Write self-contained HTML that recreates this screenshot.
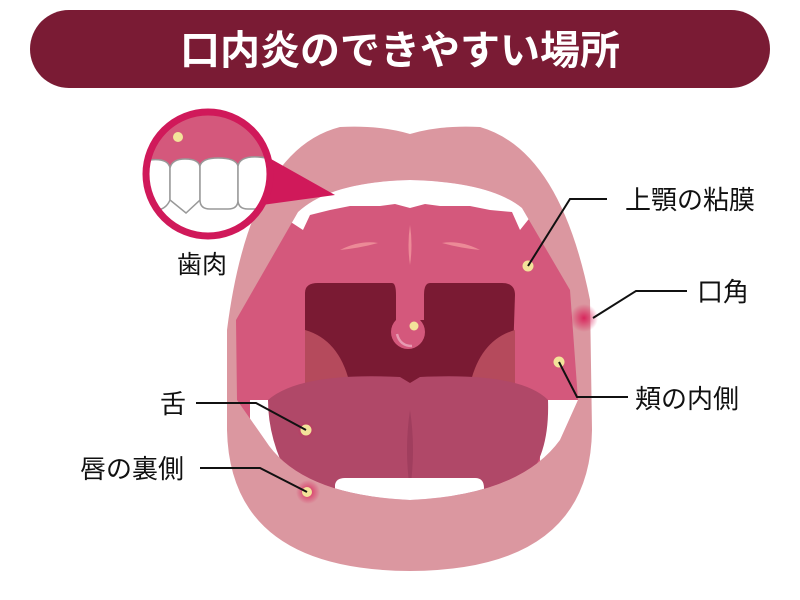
<!DOCTYPE html>
<html><head><meta charset="utf-8"><style>
html,body{margin:0;padding:0;background:#fff;}
svg{display:block;}
text{font-family:"Liberation Sans","Noto Sans CJK JP",sans-serif;}
</style></head><body>
<svg width="800" height="600" viewBox="0 0 800 600" xmlns="http://www.w3.org/2000/svg">
<defs>
<radialGradient id="g1"><stop offset="0" stop-color="#d81a55" stop-opacity="0.9"/><stop offset="1" stop-color="#d81a55" stop-opacity="0"/></radialGradient>
<clipPath id="cc"><circle cx="208" cy="174" r="62"/></clipPath>
<clipPath id="inner"><path d="M298,212 Q330,182 410,180 Q490,182 522,208 L570,290 L578,400 L560,440 Q520,495 410,500 Q300,495 265,440 L237,400 L236,320 Z"/></clipPath>
</defs>
<rect x="30" y="10" width="740" height="78" rx="39" fill="#7a1b34"/>
<text x="400" y="64" font-size="40" font-weight="bold" fill="#fff" text-anchor="middle">口内炎のできやすい場所</text>

<path d="M340,127 Q380,125 410,134 Q440,125 480,127 Q560,150 590,300 L592,430 Q590,570 410,571 Q230,570 227,430 L227,330 Q250,150 340,127 Z" fill="#db97a0"/>
<path d="M298,212 Q330,182 410,180 Q490,182 522,208 L570,290 L578,400 L560,440 Q520,495 410,500 Q300,495 265,440 L237,400 L236,320 Z" fill="#d4587c"/>
<g clip-path="url(#inner)">
<path d="M280,175 L540,175 L540,205 L520,230 L512,212 L490,210 L470,206 L440,206 L425,204 L410,208 L395,204 L380,206 L350,206 L330,210 L310,215 L303,230 L280,215 Z" fill="#fff"/>
<!-- throat -->
<path d="M305,293 Q305,283 318,283 L392,283 Q396,283 396,295 L396,385 L305,385 Z" fill="#7a1a33"/>
<path d="M424,295 Q424,283 430,283 L502,283 Q515,283 515,295 L512,385 L424,385 Z" fill="#7a1a33"/>
<rect x="390" y="320" width="40" height="66" fill="#7a1a33"/>
<path d="M305,330 Q340,340 350,385 L305,385 Z" fill="#b54a5c"/>
<path d="M515,330 Q480,340 470,385 L515,385 Z" fill="#b54a5c"/>
<rect x="396" y="283" width="28" height="35" fill="#d4587c"/>
<circle cx="408" cy="332" r="17" fill="#d4587c"/>
<path d="M397,334 Q400,346 412,346" stroke="#e79bb2" stroke-width="2.5" fill="none"/>
<path d="M410,225 Q413,245 410,265 Q407,245 410,225 Z" fill="#ec8a97"/>
<path d="M340,250 Q360,240 378,243 Q360,248 340,250 Z" fill="#ec8a97"/>
<path d="M442,243 Q460,240 480,250 Q460,248 442,243 Z" fill="#ec8a97"/>
<rect x="250" y="400" width="30" height="90" fill="#fff"/>
<rect x="540" y="400" width="40" height="70" fill="#fff"/>
<path d="M268,400 Q300,372 400,377 L410,383 L420,377 Q520,372 548,400 Q550,460 520,485 Q460,498 410,498 Q330,498 290,480 Q268,440 268,400 Z" fill="#b04868"/>
<path d="M410,410 Q416,450 410,490 Q404,450 410,410 Z" fill="#a03e5e"/>
<path d="M335,485 Q336,478 345,478 L475,478 Q484,478 484,488 L484,505 L335,505 Z" fill="#fff"/>
</g>

<!-- inset circle -->
<path d="M255,150 L335,195 L262,205 Z" fill="#d0195a"/>
<circle cx="208" cy="174" r="62" fill="#d4587c"/>
<g clip-path="url(#cc)">
<rect x="130" y="200" width="160" height="50" fill="#fff"/>
<g fill="#fff" stroke="#999" stroke-width="1.5">
<path d="M140,208 L140,168 Q140,160 150,160 Q168,158 170,168 L170,200 Q165,212 150,210 Z"/>
<path d="M170,200 L170,168 Q172,159 185,159 Q200,159 200,168 L200,200 L186,213 Z"/>
<path d="M200,200 L200,166 Q202,158 218,158 Q236,158 238,166 L238,200 Q238,209 228,209 L210,209 Q200,209 200,200 Z"/>
<path d="M238,200 L238,166 Q240,156 258,157 Q276,158 276,168 L276,209 L248,209 Q238,209 238,200 Z"/>
</g>
</g>
<circle cx="208" cy="174" r="62" fill="none" stroke="#d0195a" stroke-width="7"/>
<circle cx="178" cy="137" r="5" fill="#f3e39a"/>
<text x="202" y="273" font-size="25" text-anchor="middle" fill="#111">歯肉</text>

<circle cx="584" cy="318" r="14" fill="url(#g1)"/>
<circle cx="308" cy="492" r="12" fill="url(#g1)"/>
<circle cx="306" cy="430" r="9" fill="url(#g1)" opacity="0.5"/>
<circle cx="528" cy="266" r="5.5" fill="#f3e39a"/>
<circle cx="414" cy="326" r="4.5" fill="#f3e39a"/>
<circle cx="559" cy="362" r="5.5" fill="#f3e39a"/>
<circle cx="306" cy="430" r="5.5" fill="#f3e39a"/>
<circle cx="307" cy="492" r="5" fill="#f3e39a"/>

<g stroke="#111" stroke-width="2" fill="none">
<polyline points="528,266 570,199 607,199"/>
<polyline points="593,318 636,291 687,291"/>
<polyline points="559,362 577,397 628,397"/>
<polyline points="196,403 256,403 306,430"/>
<polyline points="200,468 260,468 307,492"/>
</g>
<g font-size="26" fill="#111">
<text x="625" y="209">上顎の粘膜</text>
<text x="697" y="301">口角</text>
<text x="635" y="408">頬の内側</text>
<text x="160" y="413">舌</text>
<text x="80" y="478">唇の裏側</text>
</g>
</svg>
</body></html>
